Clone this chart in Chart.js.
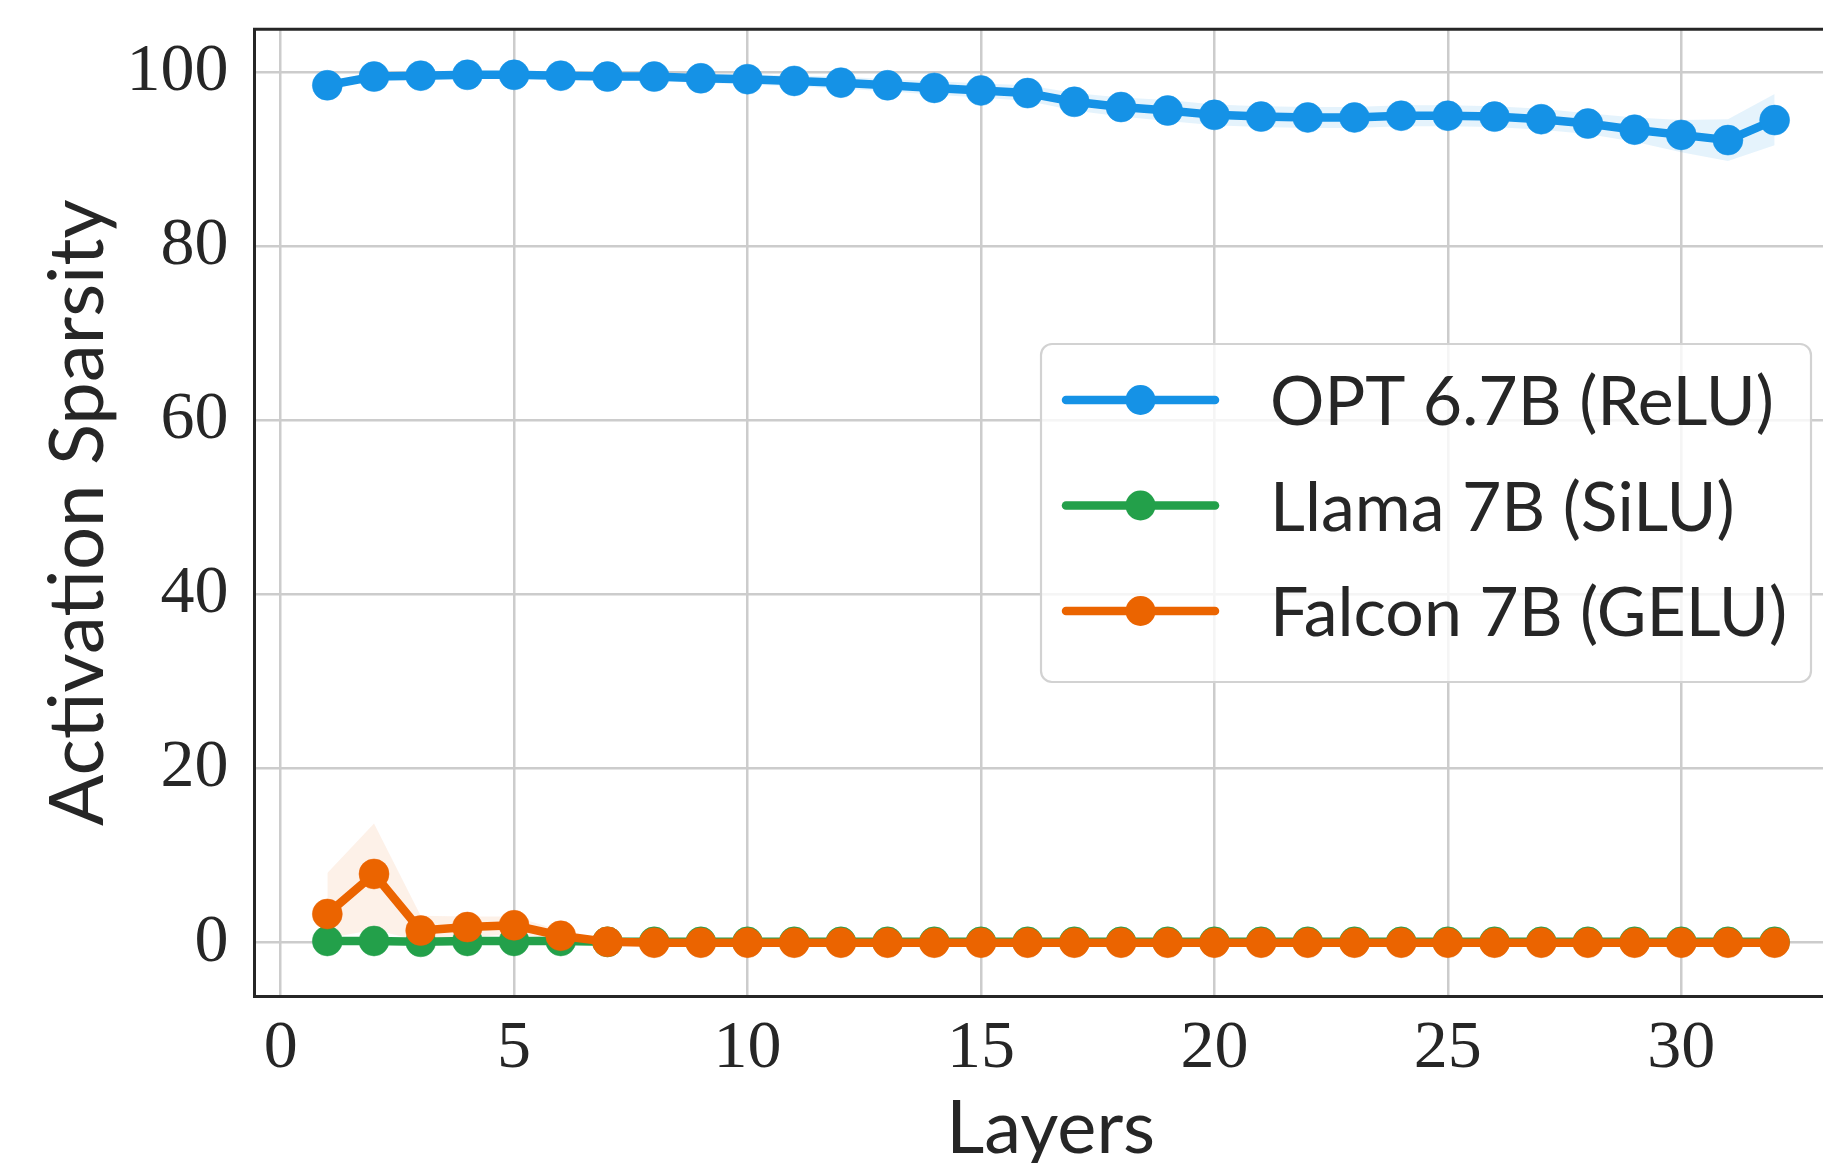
<!DOCTYPE html>
<html>
<head>
<meta charset="utf-8">
<script src="https://cdn.jsdelivr.net/npm/chart.js@4.4.1/dist/chart.umd.min.js"></script>
<style>
html,body{margin:0;padding:0;overflow:hidden;background:#ffffff;}
#wrap{width:1850px;height:1163px;position:relative;}
canvas{display:block;}
</style>
</head>
<body>
<div id="wrap"><canvas id="c" width="1850" height="1163"></canvas></div>
<script>
// ---------- data ----------
const layers = [1,2,3,4,5,6,7,8,9,10,11,12,13,14,15,16,17,18,19,20,21,22,23,24,25,26,27,28,29,30,31,32];

const optMean  = [98.5,99.5,99.6,99.7,99.7,99.6,99.5,99.5,99.3,99.2,99.0,98.8,98.5,98.2,97.9,97.6,96.6,96.0,95.6,95.1,94.9,94.8,94.8,95.0,95.0,94.9,94.6,94.1,93.4,92.8,92.2,94.5];
const optUpper = [98.7,99.7,99.8,99.9,99.9,99.9,99.9,99.9,99.8,99.8,99.6,99.5,99.2,99.0,98.7,98.5,97.6,97.1,96.8,96.3,96.1,96.0,96.0,96.2,96.2,96.1,95.8,95.3,94.8,94.5,94.6,97.5];
const optLower = [98.3,99.3,99.4,99.5,99.5,99.3,99.1,99.0,98.8,98.6,98.4,98.1,97.8,97.4,97.1,96.7,95.6,94.9,94.4,93.9,93.7,93.6,93.6,93.8,93.8,93.7,93.4,92.9,92.0,90.8,89.8,91.6];

const llamaMean  = [0.2,0.2,0.1,0.2,0.2,0.2,0.1,0.1,0.1,0.1,0.1,0.1,0.1,0.1,0.1,0.1,0.1,0.1,0.1,0.1,0.1,0.1,0.1,0.1,0.1,0.1,0.1,0.1,0.1,0.1,0.1,0.1];
const llamaUpper = [0.3,0.3,0.2,0.3,0.3,0.3,0.2,0.2,0.2,0.2,0.2,0.2,0.2,0.2,0.2,0.2,0.2,0.2,0.2,0.2,0.2,0.2,0.2,0.2,0.2,0.2,0.2,0.2,0.2,0.2,0.2,0.2];
const llamaLower = [0.1,0.1,0.0,0.1,0.1,0.1,0.0,0.0,0.0,0.0,0.0,0.0,0.0,0.0,0.0,0.0,0.0,0.0,0.0,0.0,0.0,0.0,0.0,0.0,0.0,0.0,0.0,0.0,0.0,0.0,0.0,0.0];

const falconMean  = [3.3,7.9,1.4,1.8,2.0,0.8,0.1,0.0,0.0,0.0,0.0,0.0,0.0,0.0,0.0,0.0,0.0,0.0,0.0,0.0,0.0,0.0,0.0,0.0,0.0,0.0,0.0,0.0,0.0,0.0,0.0,0.0];
const falconUpper = [8.0,13.7,3.1,3.0,3.0,1.4,0.2,0.1,0.1,0.1,0.1,0.1,0.1,0.1,0.1,0.1,0.1,0.1,0.1,0.1,0.1,0.1,0.1,0.1,0.1,0.1,0.1,0.1,0.1,0.1,0.1,0.1];
const falconLower = [0.5,1.5,0.2,0.6,1.0,0.3,0.0,0.0,0.0,0.0,0.0,0.0,0.0,0.0,0.0,0.0,0.0,0.0,0.0,0.0,0.0,0.0,0.0,0.0,0.0,0.0,0.0,0.0,0.0,0.0,0.0,0.0];

const seriesLabels = ['OPT 6.7B (ReLU)', 'Llama 7B (SiLU)', 'Falcon 7B (GELU)'];
const xTicks = [0,5,10,15,20,25,30];
const yTicks = [0,20,40,60,80,100];
const xTitle = 'Layers';
const yTitle = 'Activation Sparsity';

// ---------- styles ----------
const COLORS = ['#1592e6', '#23a04a', '#eb6400'];
const BANDS  = ['rgba(21,146,230,0.11)', 'rgba(35,160,74,0.10)', 'rgba(235,100,0,0.09)'];
const TEXT = '#262626';
const AREA = {left: 254.5, top: 29.3, right: 1847, bottom: 996};

const toXY = arr => arr.map((v, i) => ({x: layers[i], y: v}));

function lineDs(idx, data, order) {
  return {
    label: seriesLabels[idx],
    data: toXY(data),
    borderColor: COLORS[idx],
    backgroundColor: COLORS[idx],
    pointBackgroundColor: COLORS[idx],
    pointBorderColor: COLORS[idx],
    borderWidth: 8.5,
    pointRadius: 15,
    pointHoverRadius: 15,
    pointBorderWidth: 0.5,
    borderJoinStyle: 'round',
    borderCapStyle: 'round',
    tension: 0,
    fill: false,
    order: order,
    showInLegend: true,
    legendIndex: idx
  };
}
function bandDs(idx, data, fill, order) {
  return {
    label: '_band',
    data: toXY(data),
    borderWidth: 0,
    borderColor: 'rgba(0,0,0,0)',
    backgroundColor: BANDS[idx],
    pointRadius: 0,
    pointHoverRadius: 0,
    tension: 0,
    fill: fill,
    order: order
  };
}

const datasets = [
  bandDs(0, optUpper, false, 20), bandDs(0, optLower, '-1', 20),
  bandDs(1, llamaUpper, false, 21), bandDs(1, llamaLower, '-1', 21),
  bandDs(2, falconUpper, false, 22), bandDs(2, falconLower, '-1', 22),
  lineDs(0, optMean, 3),
  lineDs(1, llamaMean, 2),
  lineDs(2, falconMean, 1)
];

const framePlugin = {
  id: 'frame',
  afterDatasetsDraw(chart) {
    const {ctx, chartArea: a} = chart;
    ctx.save();
    ctx.strokeStyle = TEXT;
    ctx.lineWidth = 3;
    ctx.beginPath();
    ctx.moveTo(a.left - 1.5, a.top);
    ctx.lineTo(a.right, a.top);
    ctx.lineTo(a.right, a.bottom);
    ctx.stroke();
    ctx.restore();
  }
};

const legendPlugin = {
  id: 'boxLegend',
  afterDraw(chart) {
    const ctx = chart.ctx;
    const bx = 1041, by = 344, bw = 770, bh = 338, r = 11;
    ctx.save();
    ctx.beginPath();
    ctx.moveTo(bx + r, by);
    ctx.lineTo(bx + bw - r, by);
    ctx.arcTo(bx + bw, by, bx + bw, by + r, r);
    ctx.lineTo(bx + bw, by + bh - r);
    ctx.arcTo(bx + bw, by + bh, bx + bw - r, by + bh, r);
    ctx.lineTo(bx + r, by + bh);
    ctx.arcTo(bx, by + bh, bx, by + bh - r, r);
    ctx.lineTo(bx, by + r);
    ctx.arcTo(bx, by, bx + r, by, r);
    ctx.closePath();
    ctx.fillStyle = 'rgba(255,255,255,0.8)';
    ctx.fill();
    ctx.strokeStyle = '#d2d2d2';
    ctx.lineWidth = 2.2;
    ctx.stroke();

    const items = chart.data.datasets.filter(d => d.showInLegend)
      .sort((p, q) => p.legendIndex - q.legendIndex);
    items.forEach((d, i) => {
      const y = 400 + i * 105.5;
      ctx.strokeStyle = d.borderColor;
      ctx.lineWidth = d.borderWidth;
      ctx.lineCap = 'round';
      ctx.beginPath();
      ctx.moveTo(1066, y);
      ctx.lineTo(1215, y);
      ctx.stroke();
      ctx.fillStyle = d.pointBackgroundColor;
      ctx.beginPath();
      ctx.arc(1140.5, y, d.pointRadius, 0, Math.PI * 2);
      ctx.fill();
      ctx.fillStyle = TEXT;
      ctx.font = '68px Lato';
      ctx.textAlign = 'left';
      ctx.textBaseline = 'alphabetic';
      ctx.fillText(d.label, 1270, y + 25);
    });
    ctx.restore();
  }
};

function noPad(s) {
  s.paddingTop = 0; s.paddingBottom = 0; s.paddingLeft = 0; s.paddingRight = 0;
}

new Chart(document.getElementById('c'), {
  type: 'line',
  data: {datasets},
  plugins: [framePlugin, legendPlugin],
  options: {
    responsive: false,
    devicePixelRatio: 1,
    animation: false,
    events: [],
    layout: {
      autoPadding: false,
      padding: {top: AREA.top, right: 1850 - AREA.right, left: 0, bottom: 0}
    },
    plugins: {
      legend: {display: false},
      tooltip: {enabled: false},
      filler: {propagate: false}
    },
    scales: {
      x: {
        type: 'linear',
        min: -0.56,
        max: 33.55,
        afterFit: s => { s.height = 1163 - AREA.bottom; noPad(s); },
        afterBuildTicks: s => { s.ticks = xTicks.map(v => ({value: v})); },
        ticks: {
          stepSize: 5,
          includeBounds: false,
          padding: 12,
          color: TEXT,
          font: {family: 'Liberation Serif', size: 68},
          maxRotation: 0,
          autoSkip: false
        },
        grid: {color: '#cccccc', lineWidth: 2.5, drawTicks: false},
        border: {display: true, color: TEXT, width: 3},
        title: {
          display: true,
          text: xTitle,
          color: TEXT,
          font: {family: 'Lato', size: 74, lineHeight: 0.9},
          padding: {top: 0, bottom: 1}
        }
      },
      y: {
        type: 'linear',
        min: -6.12,
        max: 104.93,
        afterFit: s => { s.width = AREA.left; noPad(s); },
        afterBuildTicks: s => { s.ticks = yTicks.map(v => ({value: v})); },
        ticks: {
          stepSize: 20,
          includeBounds: false,
          padding: 26,
          color: TEXT,
          font: {family: 'Liberation Serif', size: 68}
        },
        grid: {color: '#cccccc', lineWidth: 2.5, drawTicks: false},
        border: {display: true, color: TEXT, width: 3},
        title: {
          display: true,
          text: yTitle,
          color: TEXT,
          font: {family: 'Lato', size: 76, lineHeight: 0.9},
          padding: {top: 44, bottom: 0}
        }
      }
    }
  }
});
</script>
</body>
</html>
